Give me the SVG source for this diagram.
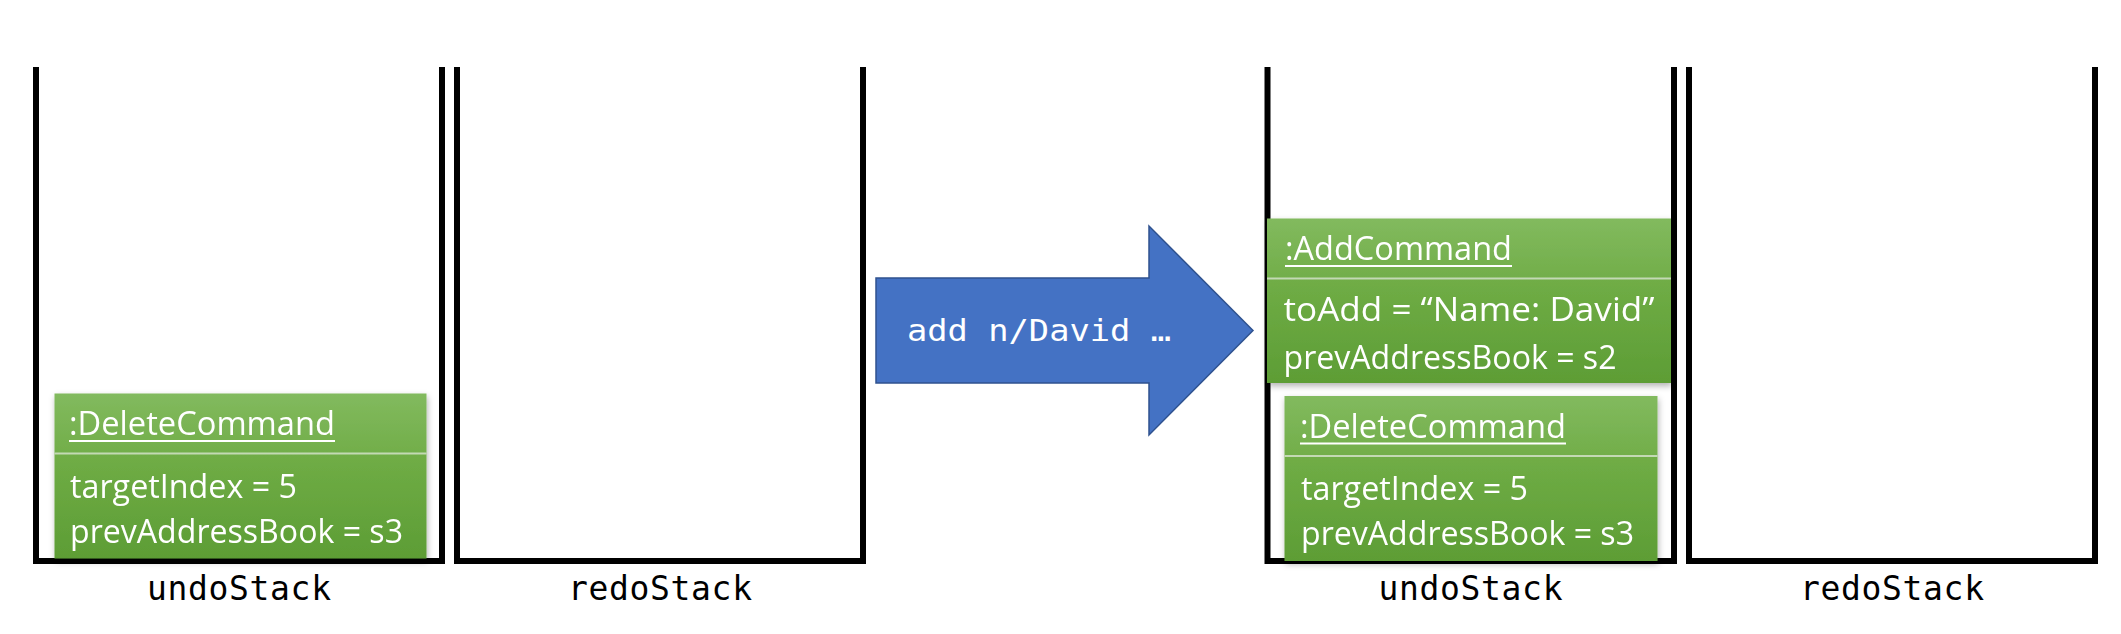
<svg xmlns="http://www.w3.org/2000/svg" width="2121" height="634" viewBox="0 0 2121 634">
<style>
.stack{fill:none;stroke:#000;stroke-width:6;stroke-linejoin:miter}
.lbl{font-family:"DejaVu Sans Mono","Liberation Mono",monospace;font-size:33px;fill:#000;text-anchor:middle}
.hdr{fill:url(#gHdr)}
.body{fill:url(#gBody)}
.div{stroke:#c3d9b4;stroke-width:2}
.t{font-family:"Open Sans","Liberation Sans",sans-serif;font-size:33.5px;fill:#fff}
.ul{stroke:#fff;stroke-width:2}
.arrowtxt{font-family:"DejaVu Sans Mono","Liberation Mono",monospace;font-size:31px;fill:#fff}
</style>
<defs>
<linearGradient id="gHdr" x1="0" y1="0" x2="0" y2="1">
<stop offset="0" stop-color="#82ba5e"/>
<stop offset="1" stop-color="#72ae4a"/>
</linearGradient>
<linearGradient id="gBody" x1="0" y1="0" x2="0" y2="1">
<stop offset="0" stop-color="#70ad46"/>
<stop offset="1" stop-color="#5d9d35"/>
</linearGradient>
<filter id="sh" x="-10%" y="-10%" width="120%" height="130%">
<feDropShadow dx="1" dy="3" stdDeviation="3" flood-color="#000" flood-opacity="0.3"/>
</filter>
</defs>

<g id="undoStack1">
<path class="stack" d="M36,67 V561 H442 V67"/>
<text class="lbl" x="239" y="600" textLength="184">undoStack</text>
</g>
<g id="redoStack1">
<path class="stack" d="M457,67 V561 H863 V67"/>
<text class="lbl" x="660" y="600" textLength="184">redoStack</text>
</g>
<g id="undoStack2">
<path class="stack" d="M1267.5,67 V561 H1674 V67"/>
<text class="lbl" x="1470.5" y="600" textLength="184">undoStack</text>
</g>
<g id="redoStack2">
<path class="stack" d="M1689,67 V561 H2095 V67"/>
<text class="lbl" x="1892" y="600" textLength="184">redoStack</text>
</g>

<g id="deleteCommand1" filter="url(#sh)">
<rect class="hdr" x="54.5" y="393.5" width="372" height="60"/>
<rect class="body" x="54.5" y="453.5" width="372" height="105"/>
<line class="div" x1="54.5" y1="453.5" x2="426.5" y2="453.5"/>
<text class="t" x="69" y="435" textLength="266" lengthAdjust="spacingAndGlyphs">:DeleteCommand</text>
<line class="ul" x1="69" y1="441" x2="335" y2="441"/>
<text class="t" x="70" y="498" textLength="227" lengthAdjust="spacingAndGlyphs">targetIndex = 5</text>
<text class="t" x="70" y="543" textLength="333" lengthAdjust="spacingAndGlyphs">prevAddressBook = s3</text>
</g>

<g id="addArrow">
<polygon points="876,278 1149,278 1149,226 1253,330.5 1149,435 1149,383 876,383" fill="#4472c4" stroke="#2f528f" stroke-width="1.5"/>
<text class="arrowtxt" x="907" y="341" textLength="264" lengthAdjust="spacingAndGlyphs">add n/David …</text>
</g>

<g id="addCommand" filter="url(#sh)">
<rect class="hdr" x="1267" y="218.5" width="404" height="60"/>
<rect class="body" x="1267" y="278.5" width="404" height="104.5"/>
<line class="div" x1="1267" y1="278.5" x2="1671" y2="278.5"/>
<text class="t" x="1285" y="260" textLength="227" lengthAdjust="spacingAndGlyphs">:AddCommand</text>
<line class="ul" x1="1285" y1="266" x2="1512" y2="266"/>
<text class="t" x="1283.5" y="321" textLength="371" lengthAdjust="spacingAndGlyphs">toAdd = “Name: David”</text>
<text class="t" x="1283.5" y="369" textLength="333" lengthAdjust="spacingAndGlyphs">prevAddressBook = s2</text>
</g>

<g id="deleteCommand2" filter="url(#sh)">
<rect class="hdr" x="1284.5" y="396" width="373" height="60"/>
<rect class="body" x="1284.5" y="456" width="373" height="105"/>
<line class="div" x1="1284.5" y1="456" x2="1657.5" y2="456"/>
<text class="t" x="1300" y="437.5" textLength="266" lengthAdjust="spacingAndGlyphs">:DeleteCommand</text>
<line class="ul" x1="1300" y1="443.5" x2="1566" y2="443.5"/>
<text class="t" x="1301" y="500" textLength="227" lengthAdjust="spacingAndGlyphs">targetIndex = 5</text>
<text class="t" x="1301" y="545" textLength="333" lengthAdjust="spacingAndGlyphs">prevAddressBook = s3</text>
</g>
</svg>
